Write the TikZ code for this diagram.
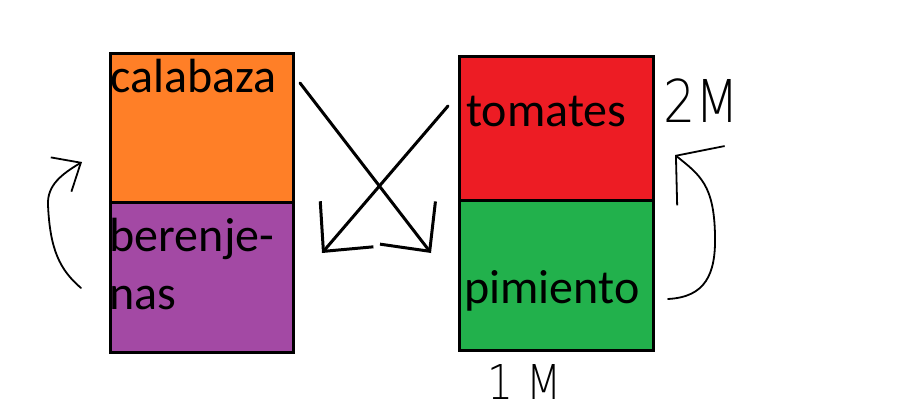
\documentclass[tikz,border=0pt]{standalone}
\usepackage{fontspec}
\setmainfont{Carlito}
\newfontfamily\thinfont{DejaVu Sans ExtraLight}
\usetikzlibrary{arrows.meta}
\definecolor{paintorange}{HTML}{FF7F27}
\definecolor{paintpurple}{HTML}{A349A4}
\definecolor{paintred}{HTML}{ED1C24}
\definecolor{paintgreen}{HTML}{22B14C}
\begin{document}
\begin{tikzpicture}[x=1pt, y=-1pt]
\tikzset{caja/.style={draw, line width=3pt, inner sep=0pt, outer sep=0pt, anchor=north west},
  texto/.style={inner sep=0pt, anchor=base west, align=left, font=\fontsize{48}{58}\selectfont},
  medida/.style={inner sep=0pt, anchor=base west},
  cruce/.style={line width=3pt, line cap=round, line join=round, -{Straight Barb[length=36pt, width=70pt]}},
  giro/.style={line width=1.8pt, line cap=round, line join=round}}
\useasboundingbox (0,0) rectangle (912,409);
\node[caja, fill=paintorange, minimum width=183pt, minimum height=148pt] (calabaza) at (110,54) {};
\node[caja, fill=paintpurple, minimum width=183pt, minimum height=150pt] (berenjenas) at (110,202) {};
\node[caja, fill=paintred, minimum width=194pt, minimum height=143pt] (tomates) at (459.5,57) {};
\node[caja, fill=paintgreen, minimum width=194pt, minimum height=150pt] (pimiento) at (459.5,200) {};
\node[texto] (tcalabaza) at (110,92.5) {calabaza};
\node[texto] (tberenjenas) at (109.5,309) {berenje-\\nas};
\node[texto] (ttomates) at (466,127) {tomates};
\node[texto] (tpimiento) at (464,303) {pimiento};
\node[medida] (dos) at (663,123) {\thinfont\fontsize{59}{59}\selectfont\scalebox{0.86}[1]{2M}};
\node[medida] (uno) at (487,399) {\thinfont\fontsize{48}{48}\selectfont\scalebox{0.85}[1]{1 M}};
% flechas cruzadas
\coordinate (c1) at (300,83);
\coordinate (c2) at (431,253);
\coordinate (c3) at (448,106);
\coordinate (c4) at (322,253);
\draw[cruce] (c1) -- (c2);
\draw[cruce] (c3) -- (c4);
% flechas curvas
\coordinate (g1) at (81,288);
\coordinate (g2) at (48,205);
\coordinate (g3) at (82,162);
\draw[giro, -{Straight Barb[length=23pt, width=40pt]}] (g1) .. controls (60,270) and (50,250) .. (g2) .. controls (47,185) and (62,174) .. (g3);
\coordinate (g4) at (668,299);
\coordinate (g5) at (715,235);
\coordinate (g6) at (675,155);
\draw[giro, -{Straight Barb[length=32pt, width=76pt]}] (g4) .. controls (705,297) and (716,275) .. (g5) .. controls (714,185) and (700,175) .. (g6);
\end{tikzpicture}
\end{document}
